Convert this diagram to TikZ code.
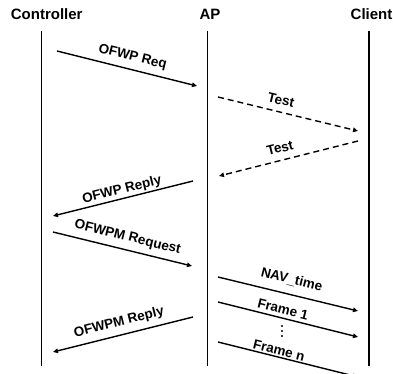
\documentclass[tikz,border=0pt]{standalone}
\usepackage{fontspec}
\setmainfont{Liberation Sans}
\usetikzlibrary{arrows.meta}
\begin{document}
\begin{tikzpicture}[x=1pt,y=-1pt,
  hdr/.style={font=\fontsize{15}{18}\selectfont\bfseries, inner sep=0pt},
  lbl/.style={font=\fontsize{13.5}{16}\selectfont\bfseries, inner sep=0pt},
  life/.style={line width=1.7pt},
  msg/.style={line width=1.4pt, -{Triangle[length=5pt,width=4.5pt]}},
  dmsg/.style={msg, dash pattern=on 6pt off 4pt}]
\useasboundingbox (0,0) rectangle (393,374);
% headers
\node[hdr, anchor=base] (hc) at (46.7,19.5) {Controller};
\node[hdr, anchor=base] (ha) at (210,19.5) {AP};
\node[hdr, anchor=base west] (hl) at (350.5,19.5) {Client};
% lifelines
\coordinate (ct) at (41.5,31); \coordinate (cb) at (41.5,366);
\coordinate (at) at (207.5,31); \coordinate (ab) at (207.5,366);
\coordinate (lt) at (369,31); \coordinate (lb) at (369,366);
\draw[life] (ct) -- (cb);
\draw[life] (at) -- (ab);
\draw[life] (lt) -- (lb);
% message end points
\coordinate (a1s) at (57,51);   \coordinate (a1e) at (197,86);
\coordinate (a2s) at (218,97);  \coordinate (a2e) at (358,131);
\coordinate (a3s) at (358,141); \coordinate (a3e) at (219,176);
\coordinate (a4s) at (193,181); \coordinate (a4e) at (53,216);
\coordinate (a5s) at (53,232);  \coordinate (a5e) at (192,266);
\coordinate (a6s) at (218,277); \coordinate (a6e) at (358,311);
\coordinate (a7s) at (218,302); \coordinate (a7e) at (358,337);
\coordinate (a8s) at (218,342); \coordinate (a8e) at (358,377);
\coordinate (a9s) at (193,317); \coordinate (a9e) at (53,352);
\draw[msg] (a1s) -- (a1e);
\draw[dmsg] (a2s) -- (a2e);
\draw[dmsg] (a3s) -- (a3e);
\draw[msg] (a4s) -- (a4e);
\draw[msg] (a5s) -- (a5e);
\draw[msg] (a6s) -- (a6e);
\draw[msg] (a7s) -- (a7e);
\draw[msg] (a8s) -- (a8e);
\draw[msg] (a9s) -- (a9e);
% labels
\node[lbl, rotate=-14] (l1) at (132.5,57.3) {OFWP Req};
\node[lbl, rotate=-13.5] (l2) at (281,100) {Test};
\node[lbl, rotate=14] (l3) at (280,148) {Test};
\node[lbl, rotate=14] (l4) at (122,190) {OFWP Reply};
\node[lbl, rotate=-14] (l5) at (127.5,237.5) {OFWPM Request};
\node[lbl, rotate=-14] (l6) at (291.7,280) {NAV\_time};
\node[lbl, rotate=-14] (l7) at (283,309.5) {Frame 1};
\node[lbl, rotate=-14] (l8) at (279,350.5) {Frame n};
\node[lbl, rotate=14] (l9) at (119,322.5) {OFWPM Reply};
% vertical dots
\foreach \yy in {326,331,336} \fill (282,\yy) circle (1.1pt);
\end{tikzpicture}
\end{document}
